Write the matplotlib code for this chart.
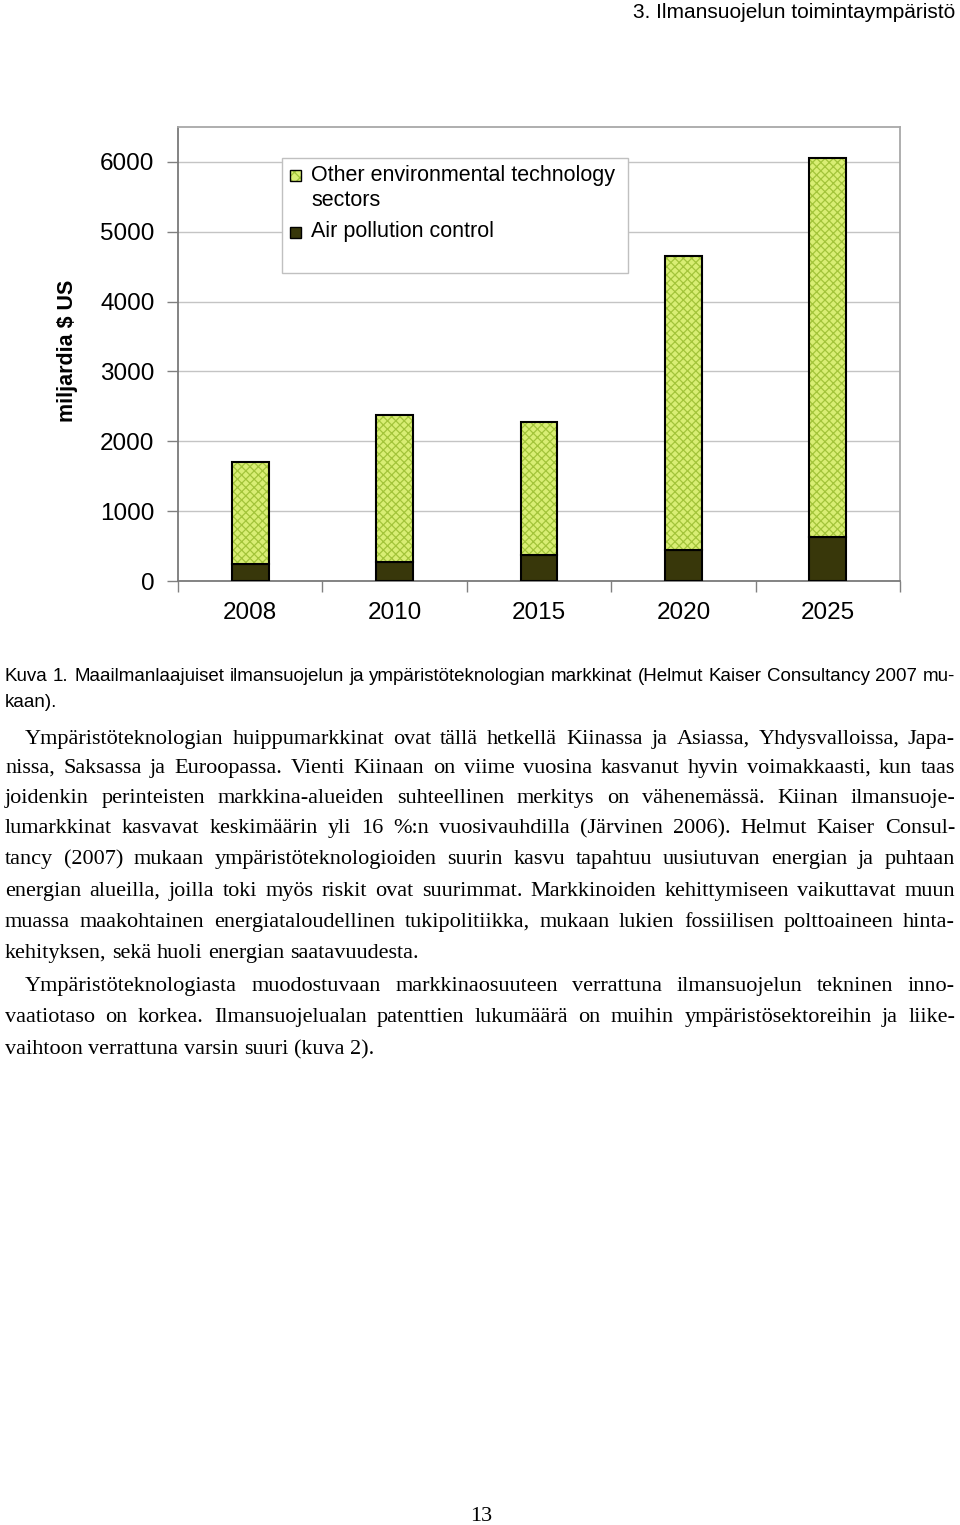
import numpy as np
import matplotlib
matplotlib.use('Agg')
import matplotlib.pyplot as plt
from matplotlib.patches import Rectangle

# data
years = ['2008', '2010', '2015', '2020', '2025']
air_pollution = [250, 275, 375, 450, 630]
other_sectors = [1450, 2100, 1900, 4200, 5420]
yticks = [0, 1000, 2000, 3000, 4000, 5000, 6000]

header = "3. Ilmansuojelun toimintaympäristö"
caption = ["Kuva 1. Maailmanlaajuiset ilmansuojelun ja ympäristöteknologian markkinat (Helmut Kaiser Consultancy 2007 mu-",
           "kaan)."]
body = [
    "Ympäristöteknologian huippumarkkinat ovat tällä hetkellä Kiinassa ja Asiassa, Yhdysvalloissa, Japa-",
    "nissa, Saksassa ja Euroopassa. Vienti Kiinaan on viime vuosina kasvanut hyvin voimakkaasti, kun taas",
    "joidenkin perinteisten markkina-alueiden suhteellinen merkitys on vähenemässä. Kiinan ilmansuoje-",
    "lumarkkinat kasvavat keskimäärin yli 16 %:n vuosivauhdilla (Järvinen 2006). Helmut Kaiser Consul-",
    "tancy (2007) mukaan ympäristöteknologioiden suurin kasvu tapahtuu uusiutuvan energian ja puhtaan",
    "energian alueilla, joilla toki myös riskit ovat suurimmat. Markkinoiden kehittymiseen vaikuttavat muun",
    "muassa maakohtainen energiataloudellinen tukipolitiikka, mukaan lukien fossiilisen polttoaineen hinta-",
    "kehityksen, sekä huoli energian saatavuudesta.",
    "Ympäristöteknologiasta muodostuvaan markkinaosuuteen verrattuna ilmansuojelun tekninen inno-",
    "vaatiotaso on korkea. Ilmansuojelualan patenttien lukumäärä on muihin ympäristösektoreihin ja liike-",
    "vaihtoon verrattuna varsin suuri (kuva 2).",
]
body_base = [744, 773, 803, 833, 864, 896, 927, 958, 991, 1022, 1054]
body_indent = [True, False, False, False, False, False, False, False, True, False, False]
body_last = [False, False, False, False, False, False, False, True, False, False, True]

W, H = 960, 1525
LIGHT = '#d9ee74'
LIGHT_HATCH = '#a3c43a'
DARK = '#38370a'

plt.rcParams['hatch.linewidth'] = 0.9
fig = plt.figure(figsize=(W / 100, H / 100), dpi=100)
fig.patch.set_facecolor('white')
renderer = fig.canvas.get_renderer()


def fx(px):
    return px / W


def fy(py):
    return 1 - py / H


def text_width(s, size, family):
    t = fig.text(0, 0, s, fontsize=size, family=family)
    w = t.get_window_extent(renderer).width
    t.remove()
    return w


def justify_line(text, x0, x1, y, size, family, last=False):
    words = text.split(' ')
    space = text_width('a a', size, family) - text_width('aa', size, family)
    widths = [text_width(w, size, family) for w in words]
    # shrink the font if the line would not fit
    natural = sum(widths) + space * (len(words) - 1)
    if not last and natural > x1 - x0:
        size = size * (x1 - x0) / natural
        widths = [text_width(w, size, family) for w in words]
    if last or len(words) == 1:
        gap = space
    else:
        gap = (x1 - x0 - sum(widths)) / (len(words) - 1)
    x = x0
    for w, wd in zip(words, widths):
        fig.text(fx(x), fy(y), w, fontsize=size, family=family, va='baseline', ha='left')
        x += wd + gap


# chart
ax = fig.add_axes([fx(178), fy(581), fx(900) - fx(178), 454 / H])
x = np.arange(len(years))
bw = 0.256
ax.bar(x, air_pollution, bw, color=DARK, edgecolor='black', linewidth=1.5, zorder=3)
ax.bar(x, other_sectors, bw, bottom=air_pollution, color=LIGHT, edgecolor=LIGHT_HATCH,
       hatch='xxxx', linewidth=0, zorder=3)
ax.bar(x, other_sectors, bw, bottom=air_pollution, color='none', edgecolor='black',
       linewidth=1.5, zorder=4)

ax.set_xlim(-0.5, len(years) - 0.5)
ax.set_ylim(0, 6500)
ax.set_yticks(yticks)
ax.set_yticklabels([str(v) for v in yticks], family='Liberation Sans', fontsize=17.5)
ax.set_xticks(x)
ax.set_xticklabels(years, family='Liberation Sans', fontsize=17.5)
ax.set_xticks(np.arange(len(years) + 1) - 0.5, minor=True)
ax.tick_params(axis='x', which='major', length=0, pad=15)
ax.tick_params(axis='x', which='minor', length=8, color='#808080', width=1)
ax.tick_params(axis='y', length=8, color='#808080', width=1, pad=9)
ax.grid(axis='y', color='#c4c4c4', linewidth=1, zorder=0)
for s in ['left', 'bottom']:
    ax.spines[s].set_color('#7a7a7a')
    ax.spines[s].set_linewidth(1.3)
for s in ['top', 'right']:
    ax.spines[s].set_color('#a8a8a8')
    ax.spines[s].set_linewidth(1.3)

fig.text(fx(68), fy(351), 'miljardia $ US', rotation=90, fontsize=15.5, fontweight='bold',
         family='Liberation Sans', ha='center', va='center')

# legend box
fig.patches.append(Rectangle((fx(282), fy(273)), fx(628) - fx(282), (273 - 158) / H,
                             transform=fig.transFigure, facecolor='white', edgecolor='#c0c0c0',
                             linewidth=1, zorder=5))
fig.patches.append(Rectangle((fx(290), fy(181)), 11 / W, 11 / H, transform=fig.transFigure,
                             facecolor=LIGHT, edgecolor=LIGHT_HATCH, hatch='xxx', linewidth=0, zorder=6))
fig.patches.append(Rectangle((fx(290), fy(181)), 11 / W, 11 / H, transform=fig.transFigure,
                             facecolor='none', edgecolor='black', linewidth=1, zorder=7))
fig.patches.append(Rectangle((fx(290), fy(238)), 11 / W, 11 / H, transform=fig.transFigure,
                             facecolor=DARK, edgecolor='black', linewidth=1, zorder=6))
for label, yy in [('Other environmental technology', 175), ('sectors', 200),
                  ('Air pollution control', 232)]:
    fig.text(fx(311), fy(yy), label, fontsize=15.5, family='Liberation Sans', va='center', zorder=8)

# page text
fig.text(fx(955), fy(12), header, fontsize=15, family='Liberation Sans', ha='right', va='center')
justify_line(caption[0], 5, 955, 681, 13.5, 'Liberation Sans')
justify_line(caption[1], 5, 955, 707, 13.5, 'Liberation Sans', last=True)
for line, yy, ind, last in zip(body, body_base, body_indent, body_last):
    justify_line(line, 25 if ind else 5, 955, yy, 16, 'Liberation Serif', last=last)
fig.text(fx(481), fy(1521), '13', fontsize=16, family='Liberation Serif', ha='center', va='baseline')

fig.savefig('out.png', dpi=100)
